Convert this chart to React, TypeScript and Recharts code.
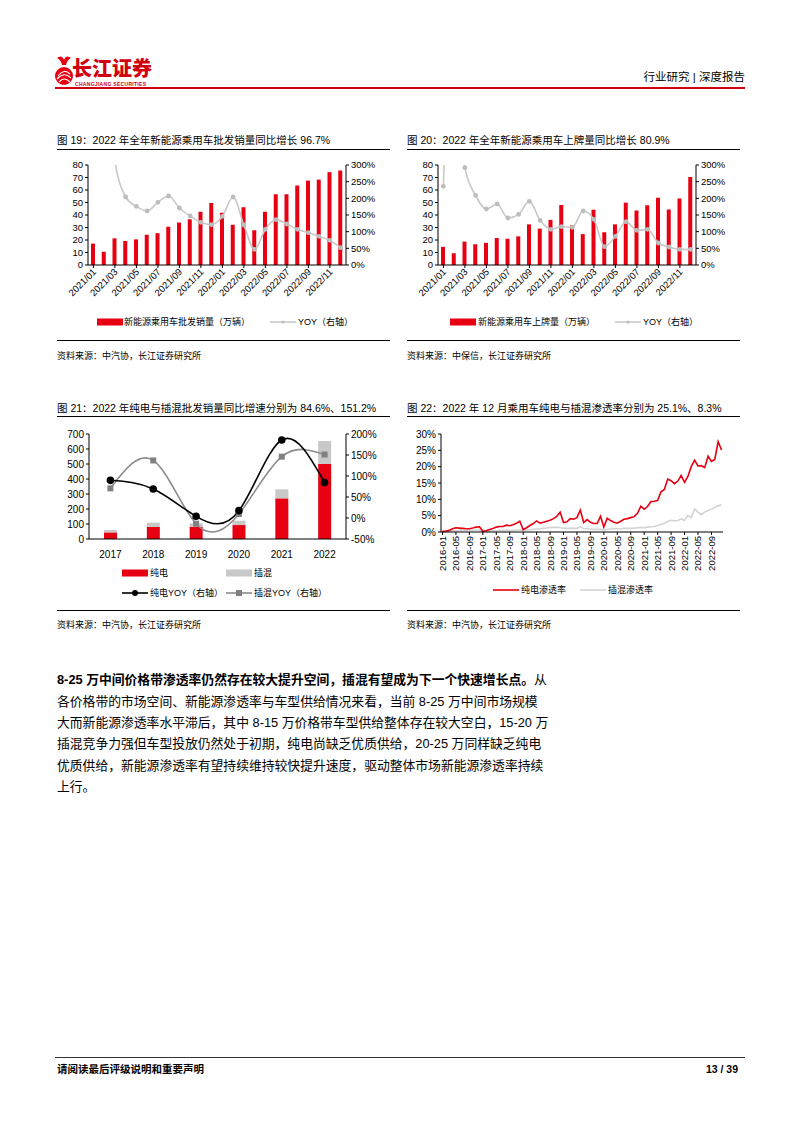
import React from "react";
import { Bar, ComposedChart, Line, LineChart, XAxis, YAxis } from "recharts";

const FONT = '"Liberation Sans", Arial, "Noto Sans CJK SC", sans-serif';
const RED = "#E60012";
const GREY = "#C8C8C8";

// 图19 / 图20: monthly, 2021/01 - 2022/12
const months = [
  "2021/01", "2021/02", "2021/03", "2021/04", "2021/05", "2021/06",
  "2021/07", "2021/08", "2021/09", "2021/10", "2021/11", "2021/12",
  "2022/01", "2022/02", "2022/03", "2022/04", "2022/05", "2022/06",
  "2022/07", "2022/08", "2022/09", "2022/10", "2022/11", "2022/12",
];
const wholesale = [
  17.1, 10.6, 21.3, 19.2, 20.5, 24.2, 25.5, 30.6, 34.0, 36.6, 42.6, 49.6,
  41.8, 32.2, 46.2, 27.8, 42.6, 56.6, 56.6, 63.6, 67.5, 68.3, 74.3, 75.6,
];
const wholesaleYoy = [
  420, 600, 310, 204, 176, 162, 188, 207, 171, 147, 128, 121,
  146, 204, 120, 47, 107, 136, 123, 107, 97, 86, 74, 52,
];
const plates = [
  14.5, 9.4, 18.7, 16.6, 17.7, 21.6, 21.0, 22.9, 32.5, 29.1, 36.1, 48.0,
  31.7, 24.7, 44.2, 26.2, 32.5, 49.9, 43.6, 47.8, 53.8, 44.4, 53.2, 70.4,
];
const platesYoy = [
  236, 800, 292, 209, 168, 183, 141, 152, 191, 134, 107, 115,
  113, 162, 137, 55, 86, 130, 104, 107, 66, 54, 47, 47,
];
const leftTicks = [0, 10, 20, 30, 40, 50, 60, 70, 80];
const yoyTicks = [0, 50, 100, 150, 200, 250, 300];

// 图21: yearly
const years = ["2017", "2018", "2019", "2020", "2021", "2022"];
const bev = [44, 80, 82, 93, 271, 500];
const phev = [16, 29, 22, 29, 60, 153];
const bevYoy = [89.7, 69, 4, 17.5, 185.7, 84.6];
const phevYoy = [70.6, 137, -13.5, 9.5, 146, 151.2];

// 图22: monthly penetration 2016-01 - 2022-12
const penYears = ["2016", "2017", "2018", "2019", "2020", "2021", "2022"];
const penMonths = penYears.flatMap((y) =>
  ["01", "02", "03", "04", "05", "06", "07", "08", "09", "10", "11", "12"].map((m) => `${y}-${m}`)
);
const bevPen = [
  0.2, 0.3, 0.5, 1.0, 1.3, 1.2, 1.1, 1.0, 1.0, 1.2, 1.5, 1.6,
  0.2, 0.4, 0.8, 1.1, 1.5, 1.7, 1.7, 2.1, 1.9, 2.2, 2.7, 3.3,
  0.7, 1.3, 2.0, 2.6, 3.4, 2.7, 3.0, 3.3, 3.6, 4.1, 4.8, 6.1,
  2.9, 3.1, 4.1, 3.9, 4.4, 6.7, 2.9, 3.8, 3.0, 2.6, 2.6, 4.8,
  1.5, 4.2, 3.5, 3.0, 2.7, 3.3, 3.9, 4.1, 4.4, 4.7, 5.7, 7.9,
  7.0, 7.8, 9.3, 9.4, 9.6, 12.3, 13.0, 16.2, 15.7, 14.8, 15.6, 17.3,
  15.2, 17.0, 20.0, 22.0, 20.2, 20.3, 19.7, 23.2, 21.6, 22.2, 27.7, 25.1,
];
const phevPen = [
  0.1, 0.2, 0.3, 0.4, 0.4, 0.5, 0.5, 0.5, 0.5, 0.5, 0.6, 0.6,
  0.2, 0.3, 0.4, 0.4, 0.4, 0.5, 0.5, 0.5, 0.5, 0.5, 0.6, 0.6,
  0.5, 0.6, 0.7, 0.8, 0.9, 1.0, 1.1, 1.2, 1.4, 1.4, 1.5, 1.3,
  1.2, 1.1, 1.2, 1.1, 1.1, 1.6, 1.0, 1.0, 0.9, 0.8, 0.8, 0.8,
  0.6, 0.8, 0.9, 1.0, 1.0, 1.0, 1.1, 1.1, 1.1, 1.2, 1.3, 1.4,
  1.3, 1.5, 1.6, 1.7, 2.0, 2.3, 2.7, 3.2, 3.6, 3.4, 3.5, 4.0,
  3.5, 5.0, 4.4, 7.0, 6.1, 5.3, 6.1, 6.6, 7.0, 7.5, 8.0, 8.3,
];

const paragraph = [
  "各价格带的市场空间、新能源渗透率与车型供给情况来看，当前 8-25 万中间市场规模",
  "大而新能源渗透率水平滞后，其中 8-15 万价格带车型供给整体存在较大空白，15-20 万",
  "插混竞争力强但车型投放仍然处于初期，纯电尚缺乏优质供给，20-25 万同样缺乏纯电",
  "优质供给，新能源渗透率有望持续维持较快提升速度，驱动整体市场新能源渗透率持续",
  "上行。",
];

const tickStyle = { fontSize: 9.5, fill: "#000", fontFamily: FONT };

function Txt({ x, y, size, children, weight, color, right }: any) {
  return (
    <div
      style={{
        position: "absolute",
        left: right ? undefined : x,
        right: right ? 794 - x : undefined,
        top: y - size / 2,
        fontSize: size,
        lineHeight: `${size}px`,
        whiteSpace: "nowrap",
        fontWeight: weight || "normal",
        color: color || "#000",
        fontFamily: FONT,
      }}
    >
      {children}
    </div>
  );
}

function HLine({ x, y, w, h, color }: any) {
  return <div style={{ position: "absolute", left: x, top: y, width: w, height: h || 1, background: color || "#000" }} />;
}

const DiagTick = (props: any) => {
  const { x, y, payload } = props;
  return (
    <text x={x + 1} y={y + 1} transform={`rotate(-45, ${x + 1}, ${y + 1})`} textAnchor="end" dominantBaseline="central" {...tickStyle}>
      {payload.value}
    </text>
  );
};

const VertTick = (props: any) => {
  const { x, y, payload } = props;
  return (
    <text x={x} y={y + 1} transform={`rotate(-90, ${x}, ${y + 1})`} textAnchor="end" dominantBaseline="central" {...tickStyle}>
      {payload.value}
    </text>
  );
};

const SquareDot = (props: any) => {
  const { cx, cy } = props;
  if (cx == null || cy == null) return null;
  return <rect x={cx - 3} y={cy - 3} width={6} height={6} fill="#808080" />;
};

function MonthlyChart({ left, bars, yoy }: any) {
  const data = months.map((m, i) => ({ m, v: bars[i], y: yoy[i] }));
  return (
    <div style={{ position: "absolute", left, top: 155 }}>
      <ComposedChart width={336} height={160} data={data} margin={{ top: 10, right: 0, bottom: 0, left: 0 }}>
        <XAxis dataKey="m" interval={1} tick={<DiagTick />} stroke="#000" tickSize={3} tickMargin={1} height={50} />
        <YAxis yAxisId="l" domain={[0, 80]} ticks={leftTicks} interval={0} width={38} stroke="#000" tickSize={3} tick={tickStyle} />
        <YAxis
          yAxisId="r"
          orientation="right"
          domain={[0, 300]}
          ticks={yoyTicks}
          interval={0}
          allowDataOverflow
          width={40}
          stroke="#000"
          tickSize={3}
          tick={tickStyle}
          tickFormatter={(v) => `${v}%`}
        />
        <Bar yAxisId="l" dataKey="v" fill={RED} barSize={4} isAnimationActive={false} />
        <Line
          yAxisId="r"
          dataKey="y"
          type="monotone"
          stroke={GREY}
          strokeWidth={1.6}
          dot={{ r: 1.6, fill: "#BDBDBD", stroke: "#BDBDBD" }}
          isAnimationActive={false}
        />
      </ComposedChart>
    </div>
  );
}

function YearChart() {
  const data = years.map((y, i) => ({ y, bev: bev[i], phev: phev[i], by: bevYoy[i], py: phevYoy[i] }));
  return (
    <div style={{ position: "absolute", left: 50, top: 424 }}>
      <ComposedChart width={342} height={140} data={data} margin={{ top: 10, right: 0, bottom: 0, left: 0 }}>
        <XAxis dataKey="y" stroke="#000" tickLine={false} tick={{ ...tickStyle, fontSize: 10 }} height={25} tickMargin={6} />
        <YAxis
          yAxisId="l"
          domain={[0, 700]}
          ticks={[0, 100, 200, 300, 400, 500, 600, 700]}
          interval={0}
          width={39}
          stroke="#000"
          tickSize={3}
          tick={{ ...tickStyle, fontSize: 10 }}
        />
        <YAxis
          yAxisId="r"
          orientation="right"
          domain={[-50, 200]}
          ticks={[-50, 0, 50, 100, 150, 200]}
          interval={0}
          width={46}
          stroke="#000"
          tickSize={3}
          tick={{ ...tickStyle, fontSize: 10 }}
          tickFormatter={(v) => `${v}%`}
        />
        <Bar yAxisId="l" dataKey="bev" stackId="a" fill={RED} barSize={13} isAnimationActive={false} />
        <Bar yAxisId="l" dataKey="phev" stackId="a" fill={GREY} barSize={13} isAnimationActive={false} />
        <Line yAxisId="r" dataKey="py" type="natural" stroke="#8C8C8C" strokeWidth={1.6} dot={<SquareDot />} isAnimationActive={false} />
        <Line yAxisId="r" dataKey="by" type="natural" stroke="#000" strokeWidth={1.6} dot={{ r: 3, fill: "#000", stroke: "#000" }} isAnimationActive={false} />
      </ComposedChart>
    </div>
  );
}

function PenetrationChart() {
  const data = penMonths.map((m, i) => ({ m, b: bevPen[i], p: phevPen[i] }));
  return (
    <div style={{ position: "absolute", left: 400, top: 424 }}>
      <LineChart width={331} height={156} data={data} margin={{ top: 10, right: 8, bottom: 0, left: 0 }}>
        <XAxis dataKey="m" scale="point" padding={{ left: 1.5, right: 1.5 }} interval={3} tick={<VertTick />} stroke="#000" tickSize={3} tickMargin={0} height={48} />
        <YAxis
          domain={[0, 30]}
          ticks={[0, 5, 10, 15, 20, 25, 30]}
          interval={0}
          width={41}
          stroke="#000"
          tickSize={3}
          tick={{ ...tickStyle, fontSize: 10 }}
          tickFormatter={(v) => `${v}%`}
        />
        <Line dataKey="p" type="linear" stroke="#D4D4D4" strokeWidth={1.6} dot={false} isAnimationActive={false} />
        <Line dataKey="b" type="linear" stroke={RED} strokeWidth={1.6} dot={false} isAnimationActive={false} />
      </LineChart>
    </div>
  );
}

function Logo() {
  return (
    <div style={{ position: "absolute", left: 54, top: 54, width: 120, height: 34 }}>
      <svg width={20} height={34}>
        <path d="M3 4 Q8 0 10 6 Q12 0 17 4 Q13 6 12 11 L8 11 Q7 6 3 4 Z" fill={RED} />
        <circle cx={10} cy={22} r={9} fill={RED} />
        <path d="M4 22 Q10 14 16 20" stroke="#fff" strokeWidth={1.2} fill="none" />
        <path d="M3 25 Q10 17 17 24" stroke="#fff" strokeWidth={1.2} fill="none" />
        <path d="M5 28 Q10 22 16 28" stroke="#fff" strokeWidth={1.2} fill="none" />
      </svg>
      <div
        style={{
          position: "absolute",
          left: 18,
          top: 3,
          height: 21,
          fontSize: 20,
          fontWeight: 900,
          color: "#D2000F",
          fontFamily: '"Noto Sans CJK SC", sans-serif',
          whiteSpace: "nowrap",
          lineHeight: "21px",
        }}
      >
        长江证券
      </div>
      <div
        style={{
          position: "absolute",
          left: 21,
          top: 27,
          height: 6,
          fontSize: 5,
          lineHeight: "6px",
          fontWeight: "bold",
          color: "#D2000F",
          fontFamily: FONT,
          whiteSpace: "nowrap",
          letterSpacing: 0.3,
        }}
      >
        CHANGJIANG SECURITIES
      </div>
    </div>
  );
}

function LegendSwatch({ x, y, kind, color }: any) {
  return (
    <svg style={{ position: "absolute", left: x, top: y - 5 }} width={26} height={10}>
      {kind === "rect" && <rect x={0} y={1.5} width={26} height={7} fill={color} />}
      {kind !== "rect" && <line x1={0} y1={5} x2={26} y2={5} stroke={color} strokeWidth={1.6} />}
      {kind === "dot" && <circle cx={13} cy={5} r={3} fill={color} />}
      {kind === "sdot" && <circle cx={13} cy={5} r={1.6} fill="#BDBDBD" />}
      {kind === "square" && <rect x={10} y={2} width={6} height={6} fill="#808080" />}
    </svg>
  );
}

export default function App() {
  return (
    <div style={{ position: "absolute", left: 0, top: 0, width: 794, height: 1123, background: "#fff", fontFamily: FONT }}>
      <Logo />
      <Txt x={745} y={78} size={11.5} right>
        行业研究 | 深度报告
      </Txt>
      <HLine x={55} y={87} w={690} h={2} color="#D2000F" />

      {/* 图19 */}
      <Txt x={57} y={140} size={10.5}>图 19：2022 年全年新能源乘用车批发销量同比增长 96.7%</Txt>
      <HLine x={57} y={149} w={333} h={1} />
      <MonthlyChart left={50} bars={wholesale} yoy={wholesaleYoy} />
      <LegendSwatch x={97} y={322} kind="rect" color={RED} />
      <Txt x={124} y={322} size={9}>新能源乘用车批发销量（万辆）</Txt>
      <LegendSwatch x={270} y={322} kind="sdot" color={GREY} />
      <Txt x={298} y={322} size={9}>YOY（右轴）</Txt>
      <HLine x={57} y={340} w={333} h={1} />
      <Txt x={57} y={356} size={9}>资料来源：中汽协，长江证券研究所</Txt>

      {/* 图20 */}
      <Txt x={407} y={140} size={10.5}>图 20：2022 年全年新能源乘用车上牌量同比增长 80.9%</Txt>
      <HLine x={407} y={149} w={333} h={1} />
      <MonthlyChart left={400} bars={plates} yoy={platesYoy} />
      <LegendSwatch x={450} y={322} kind="rect" color={RED} />
      <Txt x={478} y={322} size={9}>新能源乘用车上牌量（万辆）</Txt>
      <LegendSwatch x={615} y={322} kind="sdot" color={GREY} />
      <Txt x={643} y={322} size={9}>YOY（右轴）</Txt>
      <HLine x={407} y={340} w={333} h={1} />
      <Txt x={407} y={356} size={9}>资料来源：中保信，长江证券研究所</Txt>

      {/* 图21 */}
      <Txt x={57} y={408} size={10.5}>图 21：2022 年纯电与插混批发销量同比增速分别为 84.6%、151.2%</Txt>
      <HLine x={57} y={416} w={333} h={1} />
      <YearChart />
      <LegendSwatch x={122} y={573} kind="rect" color={RED} />
      <Txt x={150} y={573} size={9}>纯电</Txt>
      <LegendSwatch x={226} y={573} kind="rect" color={GREY} />
      <Txt x={254} y={573} size={9}>插混</Txt>
      <LegendSwatch x={122} y={593} kind="dot" color="#000" />
      <Txt x={150} y={593} size={9}>纯电YOY（右轴）</Txt>
      <LegendSwatch x={226} y={593} kind="square" color="#8C8C8C" />
      <Txt x={254} y={593} size={9}>插混YOY（右轴）</Txt>
      <HLine x={57} y={610} w={333} h={1} />
      <Txt x={57} y={625} size={9}>资料来源：中汽协，长江证券研究所</Txt>

      {/* 图22 */}
      <Txt x={407} y={408} size={10.5}>图 22：2022 年 12 月乘用车纯电与插混渗透率分别为 25.1%、8.3%</Txt>
      <HLine x={407} y={416} w={333} h={1} />
      <PenetrationChart />
      <LegendSwatch x={493} y={590} kind="line" color={RED} />
      <Txt x={521} y={590} size={9}>纯电渗透率</Txt>
      <LegendSwatch x={580} y={590} kind="line" color="#D4D4D4" />
      <Txt x={608} y={590} size={9}>插混渗透率</Txt>
      <HLine x={407} y={610} w={333} h={1} />
      <Txt x={407} y={625} size={9}>资料来源：中汽协，长江证券研究所</Txt>

      {/* 正文 */}
      <Txt x={57} y={680} size={12.8}>
        <b>8-25 万中间价格带渗透率仍然存在较大提升空间，插混有望成为下一个快速增长点。</b>从
      </Txt>
      {paragraph.map((line, i) => (
        <Txt key={i} x={57} y={702 + i * 21.3} size={12.8}>
          {line}
        </Txt>
      ))}

      {/* 页脚 */}
      <HLine x={55} y={1057} w={690} h={1} color="#333" />
      <Txt x={57} y={1069} size={10.5} weight="bold">请阅读最后评级说明和重要声明</Txt>
      <Txt x={738} y={1069} size={10.5} weight="bold" right>13 / 39</Txt>
    </div>
  );
}
